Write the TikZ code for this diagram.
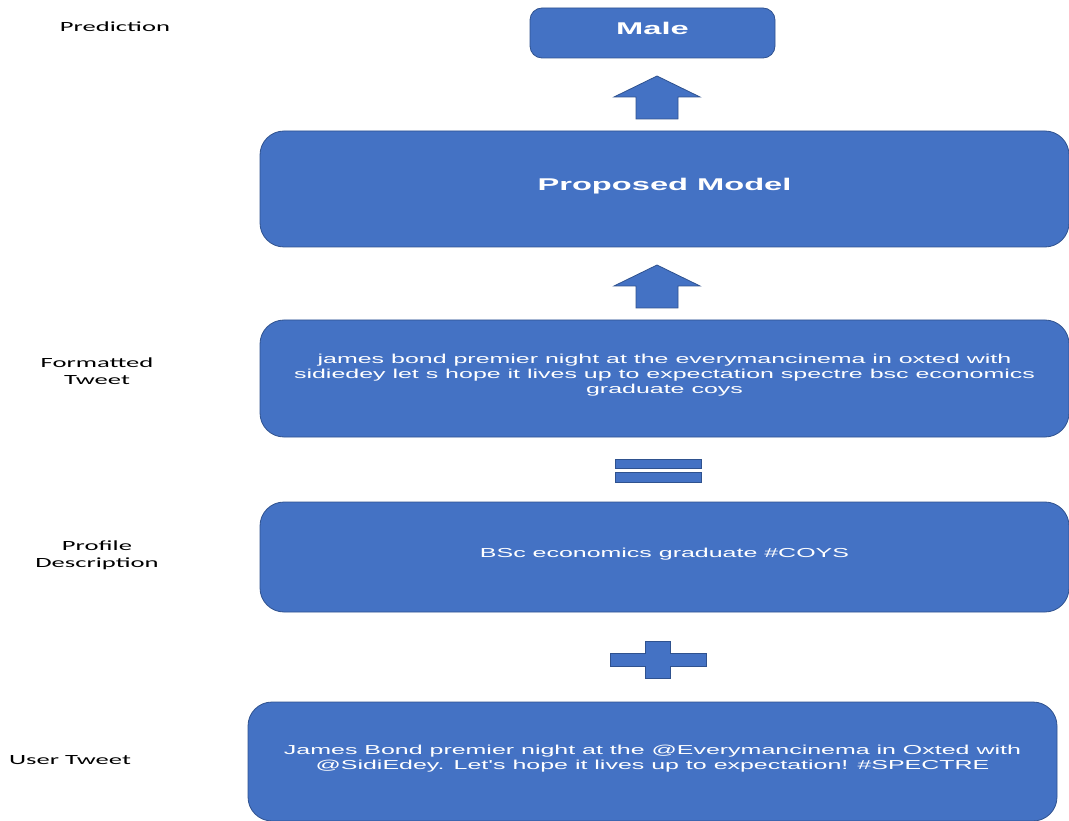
\documentclass[tikz,border=0pt]{standalone}
\usepackage{fontspec}
\newfontfamily\boxfont[FakeStretch=1.92]{Liberation Sans}
\newfontfamily\tagfont[FakeStretch=1.9]{Carlito}
\usetikzlibrary{positioning}
\definecolor{boxblue}{HTML}{4472C4}
\definecolor{boxedge}{HTML}{2F528F}

\begin{document}
\begin{tikzpicture}[x=1pt, y=-1pt,
  box/.style={draw=boxedge, fill=boxblue, line width=0.8pt, rounded corners=24pt,
              align=center, inner sep=0pt, outer sep=0pt, text=white, minimum width=809pt,
              text depth=9pt, font=\boxfont\fontsize{13}{15}\selectfont},
  title/.style={box, text depth=10pt, font=\boxfont\bfseries\fontsize{17}{20}\selectfont},
  head/.style={title, rounded corners=12pt, minimum width=245pt, minimum height=50pt},
  tag/.style={align=center, inner sep=0pt, font=\tagfont\fontsize{14}{17}\selectfont},
  sym/.style={draw=boxedge, fill=boxblue, line width=0.8pt}
]
\useasboundingbox (0,0) rectangle (1069,821);

\node[box, minimum height=119pt] (tweet) at (652.5,761.5)
  {James Bond premier night at the @Everymancinema in Oxted with\\
   @SidiEdey. Let's hope it lives up to expectation! \#SPECTRE};
\node[box, minimum height=110pt, above=90pt of tweet, xshift=12pt] (profile)
  {BSc economics graduate \#COYS};
\node[box, minimum height=117pt, above=65pt of profile] (fmt)
  {james bond premier night at the everymancinema in oxted with\\
   sidiedey let s hope it lives up to expectation spectre bsc economics\\
   graduate coys};
\node[title, minimum height=116pt, above=73pt of fmt] (model) {Proposed Model};
\node[head, above=73pt of model, xshift=-12pt] (male) {Male};

\node[tag] (lpred) at (115,27) {Prediction};
\node[tag] (lfmt) at (97,371) {Formatted\\Tweet};
\node[tag] (lprof) at (97,555) {Profile\\Description};
\node[tag] (ltweet) at (70,760) {User Tweet};

% block arrows
\foreach \y in {76,265}
  \draw[sym] (657,\y) -- (700,\y+21) -- (678,\y+21) -- (678,\y+43)
    -- (636,\y+43) -- (636,\y+21) -- (614,\y+21) -- cycle;
% equals
\draw[sym] (615,459) rectangle (701,468);
\draw[sym] (615,472) rectangle (701,482);
% plus
\draw[sym] (645,641) -- (670,641) -- (670,653) -- (706,653) -- (706,666)
  -- (670,666) -- (670,678) -- (645,678) -- (645,666) -- (610,666)
  -- (610,653) -- (645,653) -- cycle;
\end{tikzpicture}
\end{document}
